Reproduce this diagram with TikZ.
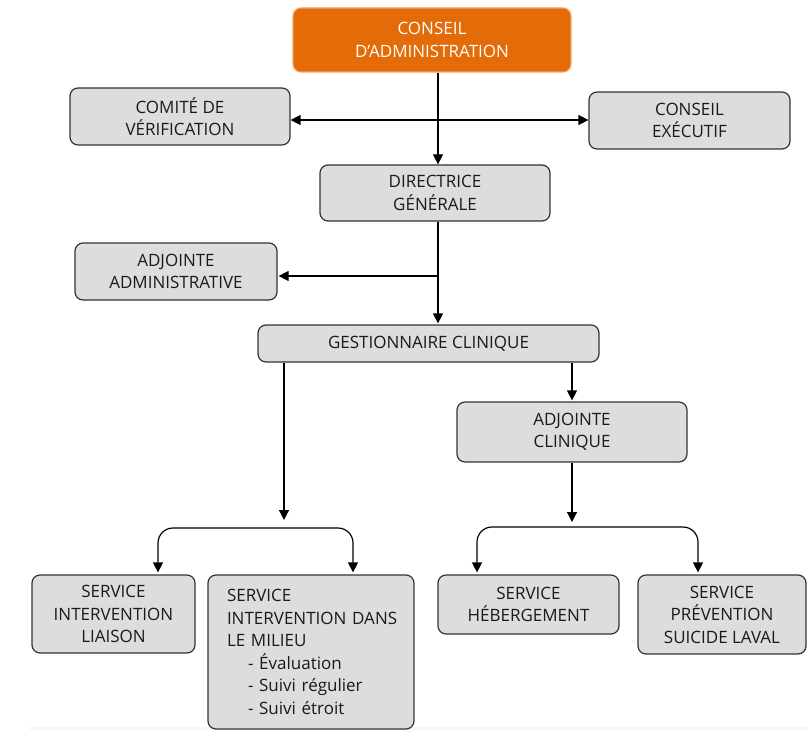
\documentclass[tikz,border=0pt]{standalone}
\usepackage{fontspec}
\setmainfont{Open Sans}
\usetikzlibrary{arrows.meta}
\definecolor{boxfill}{HTML}{DDDDDD}
\definecolor{boxline}{HTML}{333333}
\definecolor{orangefill}{HTML}{E36C09}
\definecolor{orangeline}{HTML}{F2A36B}
\definecolor{txt}{HTML}{1A1A1A}
\tikzset{
  box/.style={draw=boxline, fill=boxfill, line width=1.2pt, rounded corners=8pt,
    align=center, inner sep=0pt, text=txt,
    font=\fontsize{17}{22.5}\selectfont},
  topbox/.style={box, draw=orangeline, fill=orangefill, text=white},
  conn/.style={line width=1.2pt, draw=black, -{Triangle[length=10pt,width=10pt]}},
  dconn/.style={line width=1.2pt, draw=black, {Triangle[length=10pt,width=10pt]}-{Triangle[length=10pt,width=10pt]}},
}
\newcommand{\ind}{\hspace*{8.5pt}}
\newcommand{\indl}{\hspace*{29.5pt}}
\begin{document}
\begin{tikzpicture}[x=1pt,y=-1pt]
\useasboundingbox (0,0) rectangle (808,730);
\fill[black!3] (30,727) rectangle (808,730);

\node[topbox, minimum width=278pt, minimum height=64pt] (ca) at (432,40) {CONSEIL\\D’ADMINISTRATION};
\node[box, minimum width=220pt, minimum height=57pt] (cv) at (180,116.5) {COMITÉ DE\\VÉRIFICATION};
\node[box, minimum width=201pt, minimum height=57pt] (ce) at (689.5,120.5) {CONSEIL\\EXÉCUTIF};
\node[box, minimum width=230pt, minimum height=56pt] (dg) at (435,193) {DIRECTRICE\\GÉNÉRALE};
\node[box, minimum width=202pt, minimum height=57pt] (aa) at (176,271.5) {ADJOINTE\\ADMINISTRATIVE};
\node[box, minimum width=341pt, minimum height=37pt] (gc) at (428.5,343.5) {GESTIONNAIRE CLINIQUE};
\node[box, minimum width=230pt, minimum height=60pt] (ac) at (572,432) {ADJOINTE\\CLINIQUE};
\node[box, minimum width=163pt, minimum height=78pt] (sil) at (113.5,614) {SERVICE\\INTERVENTION\\LIAISON};
\node[box, minimum width=206pt, minimum height=154pt, text width=185pt, inner xsep=10.5pt, align=left] (sim) at (311,652)
  {\ind SERVICE\\\ind INTERVENTION DANS\\\ind LE MILIEU\\\indl - Évaluation\\\indl - Suivi régulier\\\indl - Suivi étroit};
\node[box, minimum width=181pt, minimum height=59pt] (sh) at (528.5,604.5) {SERVICE\\HÉBERGEMENT};
\node[box, minimum width=168pt, minimum height=79pt] (sps) at (722,614.5) {SERVICE\\PRÉVENTION\\SUICIDE LAVAL};

\coordinate (trunk) at (438,0);
\coordinate (hline) at (0,120);
\coordinate (abr) at (0,276);
\coordinate (lt) at (284,520);
\coordinate (lb) at (284,528);
\coordinate (ll) at (158,0);
\coordinate (lr) at (353,0);
\coordinate (rt) at (572,522);
\coordinate (rb) at (572,527);
\coordinate (rl) at (477,0);
\coordinate (rr) at (698,0);

\draw[conn] (ca.south -| trunk) -- (dg.north -| trunk);
\draw[dconn] (cv.east |- hline) -- (ce.west |- hline);
\draw[conn, shorten >=1pt] (dg.south -| trunk) -- (gc.north -| trunk);
\draw[conn, shorten >=1pt] (trunk |- abr) -- (aa.east |- abr);
\draw[conn] (gc.south -| lt) -- (lt);
\draw[dconn, rounded corners=15pt, shorten <=2pt, shorten >=2pt] (sil.north -| ll) |- (lb) -| (sim.north -| lr);
\draw[conn, shorten >=1pt] (gc.south -| ac) -- (ac.north);
\draw[conn] (ac.south) -- (rt);
\draw[dconn, rounded corners=15pt, shorten <=2pt, shorten >=2pt] (sh.north -| rl) |- (rb) -| (sps.north -| rr);
\end{tikzpicture}
\end{document}
